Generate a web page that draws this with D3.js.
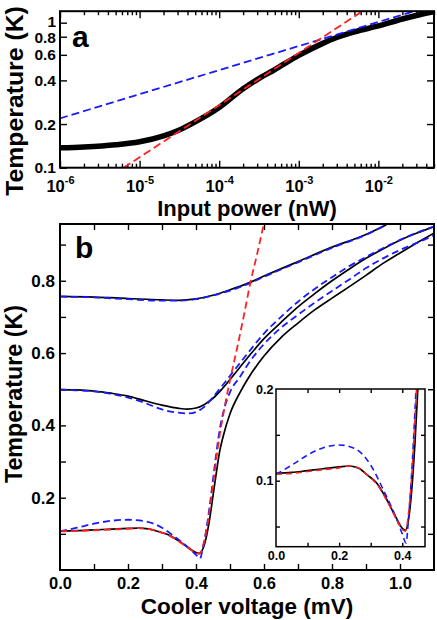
<!DOCTYPE html>
<html><head><meta charset="utf-8">
<script src="https://cdn.jsdelivr.net/npm/d3@7"></script>
<style>
body{margin:0;background:#fff}
svg text{font-family:"Liberation Sans",Arial,Helvetica,sans-serif;font-weight:bold;fill:#000}
</style>
</head><body>
<svg id="c" width="437" height="620"></svg>
<script>
// ---------- Panel a data ----------
const aPower    = [1e-6, 2e-6, 5e-6, 1e-5, 2e-5, 3e-5, 5e-5, 1e-4, 2e-4, 3e-4, 5e-4, 1e-3, 2e-3, 3e-3, 5e-3, 1e-2, 2e-2, 3e-2, 5e-2];
const aMeasured = [0.137, 0.139, 0.144, 0.151, 0.166, 0.180, 0.207, 0.260, 0.350, 0.405, 0.475, 0.595, 0.720, 0.790, 0.865, 0.950, 1.060, 1.120, 1.190];
const aRedPower = [6.3e-6, 1e-4, 6.3e-3];
const aRedT     = [0.10, 0.27, 1.20];
const aBluePower= [1e-6, 1e-4, 1e-3, 2.8e-2];
const aBlueT    = [0.219, 0.471, 0.69, 1.20];
const aXTickExps   = [-6, -5, -4, -3, -2];
const aYTicks      = [0.1, 0.2, 0.4, 0.6, 0.8, 1];
const aYTickLabels = ["0.1", "0.2", "0.4", "0.6", "0.8", "1"];

// ---------- Panel b data ----------
const v1 = [0, 0.1, 0.2, 0.3, 0.35, 0.4, 0.45, 0.5, 0.55, 0.6, 0.7, 0.8, 0.9, 0.96];
const black1 = [0.757, 0.755, 0.751, 0.747, 0.746, 0.750, 0.760, 0.775, 0.792, 0.813, 0.853, 0.893, 0.928, 0.955];
const blue1  = [0.756, 0.754, 0.749, 0.745, 0.745, 0.749, 0.759, 0.773, 0.790, 0.811, 0.851, 0.891, 0.927, 0.955];

const v2 = [0, 0.05, 0.1, 0.15, 0.2, 0.25, 0.3, 0.35, 0.375, 0.4, 0.425, 0.45, 0.475, 0.5, 0.55, 0.6, 0.65, 0.7, 0.75, 0.8, 0.85, 0.9, 0.95, 1.0, 1.05, 1.1];
const black2 = [0.499, 0.498, 0.495, 0.489, 0.481, 0.468, 0.456, 0.447, 0.445, 0.448, 0.458, 0.475, 0.499, 0.527, 0.585, 0.640, 0.685, 0.728, 0.765, 0.800, 0.832, 0.862, 0.888, 0.912, 0.932, 0.950];
const blue2  = [0.499, 0.497, 0.494, 0.487, 0.477, 0.462, 0.444, 0.435, 0.433, 0.437, 0.452, 0.478, 0.507, 0.537, 0.597, 0.654, 0.700, 0.742, 0.778, 0.810, 0.840, 0.866, 0.890, 0.913, 0.933, 0.950];

const v3 = [0, 0.05, 0.1, 0.15, 0.2, 0.23, 0.26, 0.29, 0.32, 0.35, 0.38, 0.4, 0.41, 0.42, 0.43, 0.44, 0.45, 0.46, 0.47, 0.48, 0.5, 0.53, 0.55, 0.6, 0.65, 0.7, 0.75, 0.8, 0.85, 0.9, 0.95, 1.0, 1.05, 1.1];
const black3 = [0.108, 0.109, 0.111, 0.113, 0.115, 0.116, 0.114, 0.106, 0.097, 0.080, 0.060, 0.048, 0.046, 0.058, 0.090, 0.140, 0.205, 0.270, 0.330, 0.370, 0.432, 0.492, 0.525, 0.592, 0.643, 0.683, 0.720, 0.752, 0.783, 0.815, 0.848, 0.877, 0.905, 0.932];
const vb3 = [0, 0.05, 0.1, 0.15, 0.2, 0.25, 0.3, 0.34, 0.38, 0.4, 0.412, 0.42, 0.43, 0.44, 0.45, 0.46, 0.47, 0.48, 0.5, 0.53, 0.55, 0.6, 0.65, 0.7, 0.75, 0.8, 0.85, 0.9, 0.95, 1.0, 1.05, 1.1];
const blue3  = [0.107, 0.117, 0.128, 0.136, 0.139, 0.135, 0.117, 0.090, 0.060, 0.042, 0.032, 0.060, 0.110, 0.175, 0.250, 0.325, 0.390, 0.435, 0.492, 0.535, 0.565, 0.625, 0.670, 0.706, 0.740, 0.772, 0.803, 0.835, 0.862, 0.885, 0.905, 0.925];
const vr = [0, 0.05, 0.1, 0.15, 0.2, 0.23, 0.26, 0.29, 0.32, 0.35, 0.38, 0.4, 0.41, 0.42, 0.43, 0.44, 0.45, 0.46, 0.47, 0.48, 0.5, 0.52, 0.54, 0.56, 0.58, 0.6];
const red3 = [0.107, 0.108, 0.110, 0.112, 0.114, 0.116, 0.114, 0.106, 0.096, 0.079, 0.059, 0.047, 0.045, 0.065, 0.105, 0.165, 0.235, 0.310, 0.375, 0.430, 0.525, 0.610, 0.700, 0.795, 0.875, 0.960];

const bXTicks = [0, 0.2, 0.4, 0.6, 0.8, 1.0];
const bYTicks = [0.2, 0.4, 0.6, 0.8];
const iXTicks = [0, 0.2, 0.4];
const iYTicks = [0.1, 0.2];

// ---------- drawing ----------
const svg = d3.select("#c");
const FONT = '"Liberation Sans", Arial, Helvetica, sans-serif';
const zip = (xs, ys) => xs.map((x, i) => [x, ys[i]]);

function clean(g, fs){
  g.select(".domain").remove();
  g.attr("font-size", fs).attr("font-family", FONT).attr("font-weight", "bold");
  g.selectAll(".tick line").attr("stroke", "#000").attr("stroke-width", 1.4);
  g.selectAll(".tick text").attr("fill", "#000");
  return g;
}

// ===== Panel a =====
const aL = 60, aR = 434, aT = 11.2, aB = 167.7;
const ax = d3.scaleLog().domain([1e-6, 5e-2]).range([aL, aR]);
const ay = d3.scaleLog().domain([0.1, 1.2]).range([aB, aT]);

svg.append("clipPath").attr("id", "clipA").append("rect")
  .attr("x", aL).attr("y", aT).attr("width", aR - aL).attr("height", aB - aT);

const aMajor = aXTickExps.map(e => Math.pow(10, e));
const aMinor = ax.ticks().filter(t => Math.abs(Math.log10(t) - Math.round(Math.log10(t))) > 1e-6);

const gAx = svg.append("g").attr("transform", `translate(0,${aB})`)
  .call(d3.axisBottom(ax).tickValues(aMajor).tickSize(-7).tickPadding(13).tickFormat(() => ""));
clean(gAx, 16.5);
gAx.selectAll(".tick text").each(function(d, i){
  const t = d3.select(this);
  t.text(null);
  t.append("tspan").text("10");
  t.append("tspan").attr("font-size", 11).attr("dy", "-0.75em").text(String(aXTickExps[i]));
});
clean(svg.append("g").attr("transform", `translate(0,${aB})`)
  .call(d3.axisBottom(ax).tickValues(aMinor).tickSize(-4).tickFormat(() => "")), 16);
clean(svg.append("g").attr("transform", `translate(0,${aT})`)
  .call(d3.axisTop(ax).tickValues(aMajor).tickSize(-7).tickFormat(() => "")), 16);
clean(svg.append("g").attr("transform", `translate(0,${aT})`)
  .call(d3.axisTop(ax).tickValues(aMinor).tickSize(-4).tickFormat(() => "")), 16);
const gAy = svg.append("g").attr("transform", `translate(${aL},0)`)
  .call(d3.axisLeft(ay).tickValues(aYTicks).tickSize(-7).tickPadding(4)
    .tickFormat((d, i) => aYTickLabels[i]));
clean(gAy, 15.5);
// keep the two crowded top labels from touching
gAy.selectAll(".tick text").attr("y", d => d === 1 ? -1.5 : (d === 0.8 ? 1 : 0));
clean(svg.append("g").attr("transform", `translate(${aR},0)`)
  .call(d3.axisRight(ay).tickValues(aYTicks).tickSize(-7).tickFormat(() => "")), 16);

const aLine = d3.line().x(d => ax(d[0])).y(d => ay(d[1])).curve(d3.curveMonotoneX);
const gA = svg.append("g").attr("clip-path", "url(#clipA)");
gA.append("path").attr("d", aLine(zip(aPower, aMeasured)))
  .attr("fill", "none").attr("stroke", "#000").attr("stroke-width", 5.5).attr("stroke-linejoin", "round");
gA.append("path").attr("d", aLine(zip(aBluePower, aBlueT)))
  .attr("fill", "none").attr("stroke", "#1a1aff").attr("stroke-width", 1.8).attr("stroke-dasharray", "8,4");
gA.append("path").attr("d", aLine(zip(aRedPower, aRedT)))
  .attr("fill", "none").attr("stroke", "#ff2020").attr("stroke-width", 1.8).attr("stroke-dasharray", "8,4");

svg.append("rect").attr("x", aL).attr("y", aT).attr("width", aR - aL).attr("height", aB - aT)
  .attr("fill", "none").attr("stroke", "#000").attr("stroke-width", 2);

svg.append("text").attr("x", 72).attr("y", 47).attr("font-size", 30).text("a");
svg.append("text").attr("x", (aL + aR) / 2).attr("y", 216).attr("text-anchor", "middle")
  .attr("font-size", 22).text("Input power (nW)");
svg.append("text").attr("transform", `translate(23,101) rotate(-90)`)
  .attr("text-anchor", "middle").attr("font-size", 24.8).text("Temperature (K)");

// ===== Panel b =====
const bL = 60, bR = 434, bT = 224, bB = 570;
const bx = d3.scaleLinear().domain([0, 1.1]).range([bL, bR]);
const by = d3.scaleLinear().domain([0, 0.957]).range([bB, bT]);

svg.append("clipPath").attr("id", "clipB").append("rect")
  .attr("x", bL).attr("y", bT).attr("width", bR - bL).attr("height", bB - bT);

const bXMinor = d3.range(1, 11).map(i => i / 10);
const bYMinor = d3.range(1, 10).map(i => i / 10);

clean(svg.append("g").attr("transform", `translate(0,${bB})`)
  .call(d3.axisBottom(bx).tickValues(bXTicks).tickSize(0).tickPadding(6.8).tickFormat(d3.format(".1f"))), 16.5);
clean(svg.append("g").attr("transform", `translate(0,${bB})`)
  .call(d3.axisBottom(bx).tickValues(bXMinor).tickSize(-6).tickFormat(() => "")), 17);
clean(svg.append("g").attr("transform", `translate(0,${bT})`)
  .call(d3.axisTop(bx).tickValues(bXMinor).tickSize(-6).tickFormat(() => "")), 17);
clean(svg.append("g").attr("transform", `translate(${bL},0)`)
  .call(d3.axisLeft(by).tickValues(bYTicks).tickSize(0).tickPadding(5).tickFormat(d3.format(".1f"))), 17);
clean(svg.append("g").attr("transform", `translate(${bL},0)`)
  .call(d3.axisLeft(by).tickValues(bYMinor).tickSize(-6).tickFormat(() => "")), 17);
clean(svg.append("g").attr("transform", `translate(${bR},0)`)
  .call(d3.axisRight(by).tickValues(bYMinor).tickSize(-6).tickFormat(() => "")), 17);

const bLine = d3.line().x(d => bx(d[0])).y(d => by(d[1])).curve(d3.curveMonotoneX);
const gB = svg.append("g").attr("clip-path", "url(#clipB)");
[[v1, black1], [v2, black2], [v3, black3]].forEach(([v, t]) =>
  gB.append("path").attr("d", bLine(zip(v, t))).attr("fill", "none").attr("stroke", "#000").attr("stroke-width", 1.7));
[[v1, blue1], [v2, blue2], [vb3, blue3]].forEach(([v, t]) =>
  gB.append("path").attr("d", bLine(zip(v, t))).attr("fill", "none").attr("stroke", "#1a1aff")
    .attr("stroke-width", 1.8).attr("stroke-dasharray", "7,4"));
gB.append("path").attr("d", bLine(zip(vr, red3))).attr("fill", "none").attr("stroke", "#ff2020")
  .attr("stroke-width", 1.8).attr("stroke-dasharray", "7,4");

svg.append("rect").attr("x", bL).attr("y", bT).attr("width", bR - bL).attr("height", bB - bT)
  .attr("fill", "none").attr("stroke", "#000").attr("stroke-width", 2);

svg.append("text").attr("x", 75).attr("y", 258).attr("font-size", 30).text("b");
svg.append("text").attr("x", (bL + bR) / 2).attr("y", 614).attr("text-anchor", "middle")
  .attr("font-size", 22.5).text("Cooler voltage (mV)");
svg.append("text").attr("transform", `translate(22,394) rotate(-90)`)
  .attr("text-anchor", "middle").attr("font-size", 23.3).text("Temperature (K)");

// ===== Inset =====
const iL = 276, iR = 425, iT = 389, iB = 546.7;
const ix = d3.scaleLinear().domain([0, 0.472]).range([iL, iR]);
const iy = d3.scaleLinear().domain([0.028, 0.2]).range([iB, iT]);

svg.append("rect").attr("x", iL).attr("y", iT).attr("width", iR - iL).attr("height", iB - iT).attr("fill", "#fff");
svg.append("clipPath").attr("id", "clipI").append("rect")
  .attr("x", iL).attr("y", iT).attr("width", iR - iL).attr("height", iB - iT);

const iXMinor = [0.1, 0.2, 0.3, 0.4];
const iYMinor = [0.05, 0.1, 0.15];
clean(svg.append("g").attr("transform", `translate(0,${iB})`)
  .call(d3.axisBottom(ix).tickValues(iXTicks).tickSize(0).tickPadding(4.5).tickFormat(d3.format(".1f"))), 12.5);
clean(svg.append("g").attr("transform", `translate(0,${iB})`)
  .call(d3.axisBottom(ix).tickValues(iXMinor).tickSize(-4).tickFormat(() => "")), 12.5);
clean(svg.append("g").attr("transform", `translate(0,${iT})`)
  .call(d3.axisTop(ix).tickValues(iXMinor).tickSize(-4).tickFormat(() => "")), 12.5);
clean(svg.append("g").attr("transform", `translate(${iL},0)`)
  .call(d3.axisLeft(iy).tickValues(iYTicks).tickSize(0).tickPadding(2.5).tickFormat(d3.format(".1f"))), 12.5);
clean(svg.append("g").attr("transform", `translate(${iL},0)`)
  .call(d3.axisLeft(iy).tickValues(iYMinor).tickSize(-4).tickFormat(() => "")), 12.5);
clean(svg.append("g").attr("transform", `translate(${iR},0)`)
  .call(d3.axisRight(iy).tickValues(iYMinor).tickSize(-4).tickFormat(() => "")), 12.5);

const iLine = d3.line().x(d => ix(d[0])).y(d => iy(d[1])).curve(d3.curveMonotoneX);
const gI = svg.append("g").attr("clip-path", "url(#clipI)");
gI.append("path").attr("d", iLine(zip(v3, black3))).attr("fill", "none").attr("stroke", "#000").attr("stroke-width", 1.7);
gI.append("path").attr("d", iLine(zip(vb3, blue3))).attr("fill", "none").attr("stroke", "#1a1aff")
  .attr("stroke-width", 1.6).attr("stroke-dasharray", "6,4");
gI.append("path").attr("d", iLine(zip(vr, red3))).attr("fill", "none").attr("stroke", "#ff2020")
  .attr("stroke-width", 1.6).attr("stroke-dasharray", "6,4");

svg.append("rect").attr("x", iL).attr("y", iT).attr("width", iR - iL).attr("height", iB - iT)
  .attr("fill", "none").attr("stroke", "#000").attr("stroke-width", 1.5);
</script>
</body></html>
